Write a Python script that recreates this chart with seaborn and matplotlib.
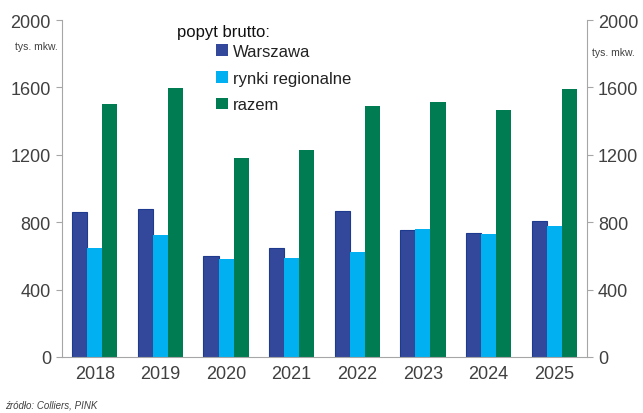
import pandas as pd
import numpy as np
import matplotlib.pyplot as plt
import seaborn as sns
from matplotlib.patches import Patch

years = ["2018", "2019", "2020", "2021", "2022", "2023", "2024", "2025"]
warszawa = [858, 876, 600, 645, 865, 752, 736, 809]
regionalne = [646, 722, 582, 586, 623, 758, 730, 777]
razem = [1501, 1596, 1181, 1228, 1490, 1513, 1466, 1589]
series = ["Warszawa", "rynki regionalne", "razem"]
colors = ["#33489B", "#00B0F0", "#007C52"]

df = pd.DataFrame({"rok": years * 3,
                   "seria": np.repeat(series, len(years)),
                   "wartosc": warszawa + regionalne + razem})

sns.set_style("white")
plt.rcParams['font.family'] = ['Liberation Sans', 'DejaVu Sans']

fig = plt.figure(figsize=(6.43, 4.14), dpi=100)
ax = fig.add_axes([62 / 643, 1 - 358 / 414, 525 / 643, 337 / 414])

sns.barplot(data=df, x="rok", y="wartosc", hue="seria", palette=colors,
            width=0.69, ax=ax, legend=False, saturation=1)
for i, cont in enumerate(ax.containers):
    for bar in cont:
        if i == 0:
            bar.set_edgecolor("#1E3A8E")
            bar.set_linewidth(0.8)
        else:
            bar.set_edgecolor("none")

ax.set_ylim(0, 2000)
ax.set_yticks(range(0, 2001, 400))
ax.set_xlabel("")
ax.set_ylabel("")
for s in ["top", "right"]:
    ax.spines[s].set_visible(False)
for s in ["left", "bottom"]:
    ax.spines[s].set_color("#A6A6A6")
ax.tick_params(axis="y", length=4, color="#A6A6A6", labelsize=13, labelcolor="#404040", pad=4)
ax.tick_params(axis="x", length=0, labelsize=13, labelcolor="#404040", pad=6)

ax2 = ax.twinx()
ax2.set_ylim(0, 2000)
ax2.set_yticks(range(0, 2001, 400))
for s in ["top", "left", "bottom"]:
    ax2.spines[s].set_visible(False)
ax2.spines["right"].set_color("#A6A6A6")
ax2.tick_params(axis="y", length=4, color="#A6A6A6", labelsize=13, labelcolor="#404040", pad=4)

fig.text(15 / 643, 1 - 47 / 414, "tys. mkw.", fontsize=7.5, color="#404040", va="center")
fig.text(592 / 643, 1 - 53 / 414, "tys. mkw.", fontsize=7.5, color="#404040", va="center")

fig.text(177 / 643, 1 - 32 / 414, "popyt brutto:", fontsize=12, color="#111111", va="center")
handles = [Patch(facecolor=c, edgecolor="none") for c in colors]
ax.legend(handles, series, loc="upper left", bbox_to_anchor=(216 / 643, 1 - 45 / 414),
          bbox_transform=fig.transFigure, frameon=False, fontsize=12,
          handlelength=0.7, handleheight=0.7, handletextpad=0.3, labelspacing=0.7,
          borderaxespad=0, borderpad=0, labelcolor="#222222")

fig.text(5 / 643, 1 - 406 / 414, "źródło: Colliers, PINK", fontsize=7, style="italic",
         color="#404040", va="center")

fig.savefig("out.png", dpi=100)
